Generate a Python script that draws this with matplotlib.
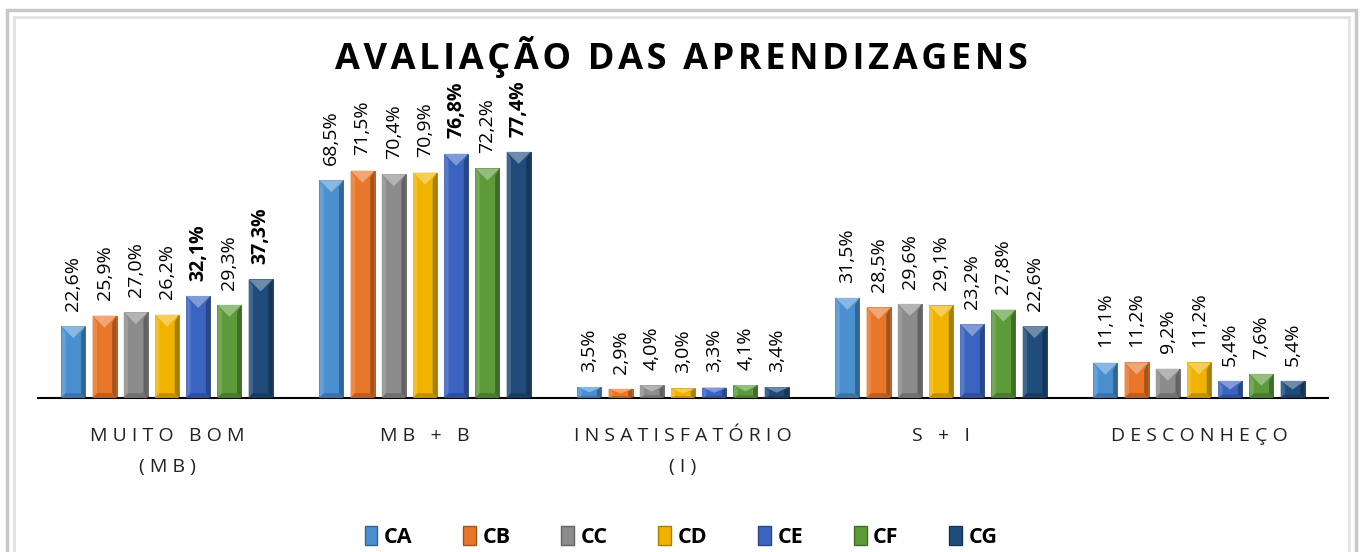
import matplotlib
matplotlib.use("Agg")
import matplotlib.pyplot as plt
from matplotlib.patches import Polygon, Patch, Rectangle
import matplotlib.colors as mcolors
import numpy as np

categories = ["MUITO BOM\n(MB)", "MB + B", "INSATISFATÓRIO\n(I)", "S + I", "DESCONHEÇO"]
series = ["CA", "CB", "CC", "CD", "CE", "CF", "CG"]
values = {
    "CA": [22.6, 68.5, 3.5, 31.5, 11.1],
    "CB": [25.9, 71.5, 2.9, 28.5, 11.2],
    "CC": [27.0, 70.4, 4.0, 29.6, 9.2],
    "CD": [26.2, 70.9, 3.0, 29.1, 11.2],
    "CE": [32.1, 76.8, 3.3, 23.2, 5.4],
    "CF": [29.3, 72.2, 4.1, 27.8, 7.6],
    "CG": [37.3, 77.4, 3.4, 22.6, 5.4],
}
bold_labels = {("CE", 0), ("CG", 0), ("CE", 1), ("CG", 1)}
colors = {
    "CA": "#4A90D0",
    "CB": "#E8762B",
    "CC": "#8C8C8C",
    "CD": "#F0B400",
    "CE": "#3A64C0",
    "CF": "#5C9A3A",
    "CG": "#1F4C7A",
}
title = "AVALIAÇÃO DAS APRENDIZAGENS"

FONT = ["Open Sans", "DejaVu Sans"]

def spaced(s, gap=" ", wgap="   "):
    lines = []
    for line in s.split("\n"):
        words = line.split(" ")
        lines.append(wgap.join(gap.join(list(w)) for w in words if w != ""))
    return "\n".join(lines)

fig = plt.figure(figsize=(13.62, 5.52), dpi=100)
W, H = 1362, 552
ax = fig.add_axes([38 / W, (H - 398) / H, (1328 - 38) / W, (398 - 80) / H])

# frame border
fig.patches.append(Rectangle((7 / W, -0.05), (1356 - 7) / W, (H - 10) / H + 0.05,
                             transform=fig.transFigure, fill=False, ec="#c8c8c8", lw=2.5))
fig.patches.append(Rectangle((14 / W, -0.05), (1349 - 14) / W, (H - 17) / H + 0.05,
                             transform=fig.transFigure, fill=False, ec="#e2e2e2", lw=2))

x = np.arange(len(categories))
n = len(series)
slot = 0.121
width = 0.093

def shade(c, f):
    r, g, b = mcolors.to_rgb(c)
    if f >= 0:
        return (r + (1 - r) * f, g + (1 - g) * f, b + (1 - b) * f)
    return (r * (1 + f), g * (1 + f), b * (1 + f))

ax.set_xlim(-0.5, len(categories) - 0.5)
ax.set_ylim(0, 100)
fig.canvas.draw()
px_per_unit_y = ax.transData.transform((0, 1))[1] - ax.transData.transform((0, 0))[1]

for i, s in enumerate(series):
    offs = (i - (n - 1) / 2) * slot
    bars = ax.bar(x + offs, values[s], width, color=colors[s], edgecolor=shade(colors[s], -0.3),
                  linewidth=0.6, zorder=2)
    for j, rect in enumerate(bars):
        bx, by = rect.get_x(), rect.get_y()
        bw, bh = rect.get_width(), rect.get_height()
        bev_y = min(12 / px_per_unit_y, bh / 2)
        ax.add_patch(Polygon([(bx, by + bh), (bx + bw, by + bh), (bx + bw / 2, by + bh - bev_y)],
                             closed=True, fc=shade(colors[s], 0.35), ec="none", zorder=3))
        sx = bw * 0.18
        ax.add_patch(Polygon([(bx + bw, by), (bx + bw, by + bh), (bx + bw - sx, by + bh - bev_y * 0.6),
                              (bx + bw - sx, by + bev_y * 0.4)],
                             closed=True, fc=shade(colors[s], -0.3), ec="none", zorder=3))
        ax.add_patch(Polygon([(bx, by), (bx, by + bh), (bx + sx, by + bh - bev_y * 0.6),
                              (bx + sx, by + bev_y * 0.4)],
                             closed=True, fc=shade(colors[s], 0.15), ec="none", zorder=3))
        ax.add_patch(Polygon([(bx, by), (bx + bw, by), (bx + bw - sx, by + bev_y * 0.4),
                              (bx + sx, by + bev_y * 0.4)],
                             closed=True, fc=shade(colors[s], -0.2), ec="none", zorder=3))
        v = values[s][j]
        lab = f"{v:.1f}%".replace(".", ",")
        ax.annotate(lab, (bx + bw / 2, by + bh), xytext=(0, 11), textcoords="offset points",
                    rotation=90, ha="center", va="bottom", fontsize=14,
                    fontweight="bold" if (s, j) in bold_labels else "normal",
                    family=FONT, color="black", zorder=4)

for sp in ["top", "left", "right"]:
    ax.spines[sp].set_visible(False)
ax.spines["bottom"].set_color("black")
ax.spines["bottom"].set_linewidth(1.5)
ax.set_yticks([])
ax.set_xticks(x)
ax.set_xticklabels([spaced(c) for c in categories], family=FONT, fontsize=14,
                   linespacing=1.9, color="#222222")
ax.tick_params(axis="x", length=0, pad=21)
ax.patch.set_alpha(0)

fig.text(0.5, (H - 57) / H, spaced(title, "\u200a", " \u2009"), ha="center", va="center",
         fontsize=26, fontweight="bold", family=FONT)

handles = [Patch(facecolor=colors[s], edgecolor=shade(colors[s], -0.3)) for s in series]
leg = fig.legend(handles, series, loc="center", bbox_to_anchor=(0.5, (H - 537) / H), ncol=7,
                 frameon=False, prop={"family": FONT, "weight": "bold", "size": 15.5},
                 handlelength=0.6, handleheight=1.0, handletextpad=0.3, columnspacing=2.35)

fig.savefig("out.png", dpi=100)
